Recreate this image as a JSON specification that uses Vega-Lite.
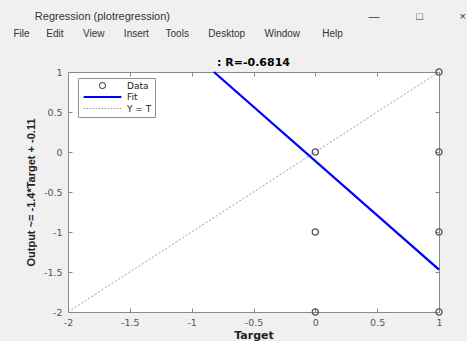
{
  "$schema": "https://vega.github.io/schema/vega-lite/v6.json",
  "background": "#f0f0f0",
  "padding": {"left": 13, "top": 11, "right": 0, "bottom": 0},
  "title": {
    "text": "\u200b\u00a0\u00a0\u00a0\u00a0\u00a0\u00a0\u00a0Regression (plotregression)\u00a0\u00a0\u00a0\u00a0\u00a0\u00a0\u00a0\u00a0\u00a0\u00a0\u00a0\u00a0\u00a0\u00a0\u00a0\u00a0\u00a0\u00a0\u00a0\u00a0\u00a0\u00a0\u00a0\u00a0\u00a0\u00a0\u00a0\u00a0\u00a0\u00a0\u00a0\u00a0\u00a0\u00a0\u00a0\u00a0\u00a0\u00a0\u00a0\u00a0\u00a0\u00a0\u00a0\u00a0\u00a0\u00a0\u00a0\u00a0\u00a0\u00a0\u00a0\u00a0\u00a0\u00a0\u00a0\u00a0\u00a0\u00a0\u00a0\u00a0\u00a0\u00a0\u00a0\u00a0\u00a0—\u00a0\u00a0\u00a0\u00a0\u00a0\u00a0\u00a0\u00a0\u00a0\u00a0\u00a0\u00a0□\u00a0\u00a0\u00a0\u00a0\u00a0\u00a0\u00a0\u00a0\u00a0\u00a0\u00a0\u00a0×",
    "subtitle": "File\u00a0\u00a0\u00a0\u00a0\u00a0\u00a0Edit\u00a0\u00a0\u00a0\u00a0\u00a0\u00a0\u00a0View\u00a0\u00a0\u00a0\u00a0\u00a0\u00a0\u00a0Insert\u00a0\u00a0\u00a0\u00a0\u00a0\u00a0Tools\u00a0\u00a0\u00a0\u00a0\u00a0\u00a0\u00a0Desktop\u00a0\u00a0\u00a0\u00a0\u00a0\u00a0\u00a0Window\u00a0\u00a0\u00a0\u00a0\u00a0\u00a0\u00a0\u00a0Help",
    "anchor": "start",
    "frame": "bounds",
    "limit": 600,
    "font": "Liberation Sans",
    "fontSize": 11,
    "fontWeight": "normal",
    "color": "#333333",
    "subtitleFont": "Liberation Sans",
    "subtitleFontSize": 10,
    "subtitleColor": "#333333",
    "subtitlePadding": 7,
    "offset": 18,
    "dx": -12
  },
  "datasets": {
    "pts": [
      {"target": 0, "output": 0, "series": "Data"},
      {"target": 0, "output": -1, "series": "Data"},
      {"target": 0, "output": -2, "series": "Data"},
      {"target": 1, "output": 1, "series": "Data"},
      {"target": 1, "output": 0, "series": "Data"},
      {"target": 1, "output": -1, "series": "Data"},
      {"target": 1, "output": -2, "series": "Data"}
    ],
    "fit": [
      {"target": -0.82, "output": 1, "series": "Fit"},
      {"target": 1, "output": -1.47, "series": "Fit"}
    ],
    "ident": [
      {"target": -2, "output": -2, "series": "Y = T"},
      {"target": 1, "output": 1, "series": "Y = T"}
    ]
  },
  "vconcat": [
    {
      "width": 371,
      "height": 240,
      "title": {
        "text": ": R=-0.6814",
        "font": "DejaVu Sans",
        "fontSize": 11,
        "fontWeight": "bold",
        "color": "#000000",
        "offset": -2
      },
      "layer": [
        {
          "data": {"name": "ident"},
          "mark": {"type": "line", "strokeWidth": 1, "strokeDash": [2, 2]},
          "encoding": {
            "x": {
              "field": "target", "type": "quantitative",
              "scale": {"domain": [-2, 1], "nice": false, "zero": false},
              "axis": {"orient": "bottom", "title": "Target", "values": [-2, -1.5, -1, -0.5, 0, 0.5, 1], "labelExpr": "datum.value + ''", "labelPadding": 9, "titlePadding": 3}
            },
            "y": {
              "field": "output", "type": "quantitative",
              "scale": {"domain": [-2, 1], "nice": false, "zero": false},
              "axis": {"orient": "left", "title": "Output ~= -1.4*Target + -0.11", "values": [-2, -1.5, -1, -0.5, 0, 0.5, 1], "labelExpr": "datum.value + ''", "labelPadding": 10, "titlePadding": 7, "titleFont": "Liberation Sans", "titleFontSize": 11}
            },
            "color": {
              "field": "series", "type": "nominal",
              "scale": {"domain": ["Data", "Fit", "Y = T"], "range": ["#555555", "#0000ff", "#9a9a9a"]},
              "legend": {
                "title": null,
                "encode": {
                  "symbols": {
                    "update": {
                      "shape": {"signal": "datum.value === 'Data' ? 'circle' : 'M-6.3,0H6.3'"},
                      "strokeDash": {"signal": "datum.value === 'Y = T' ? [1.5, 1.5] : [1, 0]"},
                      "strokeWidth": {"signal": "datum.value === 'Fit' ? 2.2 : 1.1"},
                      "fill": {"value": "transparent"}
                    }
                  }
                }
              }
            }
          }
        },
        {
          "data": {"name": "fit"},
          "mark": {"type": "line", "strokeWidth": 2.3},
          "encoding": {
            "x": {"field": "target", "type": "quantitative", "axis": null},
            "y": {"field": "output", "type": "quantitative", "axis": null},
            "color": {"field": "series", "type": "nominal", "legend": {"title": null}}
          }
        },
        {
          "data": {"name": "pts"},
          "mark": {"type": "point", "filled": false, "opacity": 1, "shape": "circle", "size": 38, "strokeWidth": 1.3},
          "encoding": {
            "x": {"field": "target", "type": "quantitative", "axis": null},
            "y": {"field": "output", "type": "quantitative", "axis": null},
            "color": {"field": "series", "type": "nominal", "legend": {"title": null}}
          }
        },
        {
          "data": {"name": "pts"},
          "mark": {"type": "point", "opacity": 0},
          "encoding": {
            "x": {"field": "target", "type": "quantitative", "axis": {"orient": "top", "labels": false, "title": null, "values": [-2, -1.5, -1, -0.5, 0, 0.5, 1]}},
            "y": {"field": "output", "type": "quantitative", "axis": {"orient": "right", "labels": false, "title": null, "values": [-2, -1.5, -1, -0.5, 0, 0.5, 1]}}
          }
        }
      ],
      "resolve": {"axis": {"x": "independent", "y": "independent"}}
    }
  ],
  "config": {
    "view": {"stroke": null, "fill": "white"},
    "axis": {
      "domainColor": "#8a8a8a",
      "tickColor": "#8a8a8a",
      "tickSize": -4,
      "labelFont": "DejaVu Sans",
      "labelFontSize": 9.5,
      "labelColor": "#555555",
      "labelFlush": false,
      "titleFont": "DejaVu Sans",
      "titleFontSize": 11,
      "titleFontWeight": "bold",
      "titleColor": "#222222",
      "grid": false
    },
    "legend": {
      "orient": "none",
      "legendX": 10,
      "legendY": 6,
      "fillColor": "white",
      "strokeColor": "#8f8f8f",
      "padding": 3,
      "symbolSize": 36,
      "symbolOffset": 17,
      "labelOffset": 20,
      "labelFont": "DejaVu Sans",
      "labelFontSize": 9,
      "labelColor": "#222222",
      "rowPadding": 1.5
    }
  }
}
